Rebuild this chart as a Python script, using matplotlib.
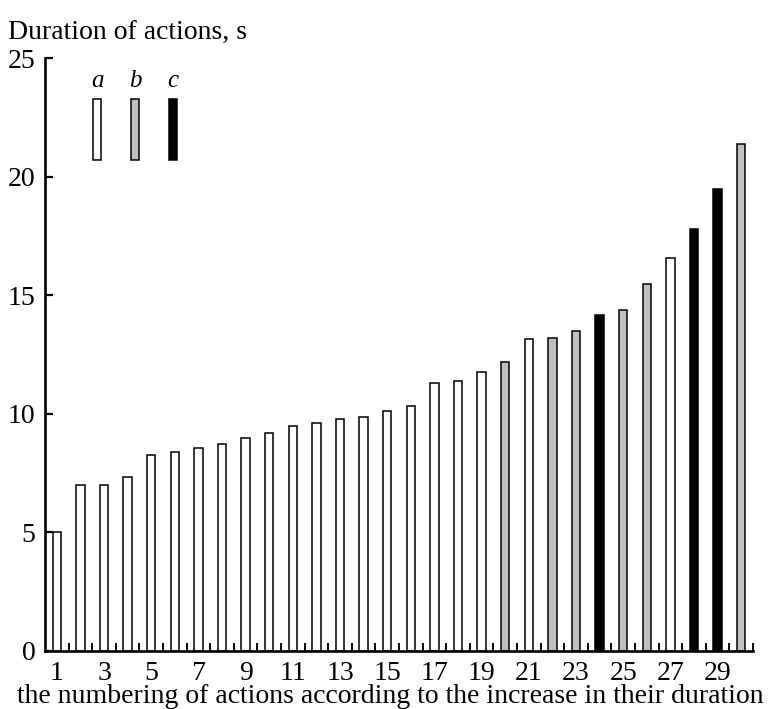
import matplotlib
matplotlib.use("Agg")
import matplotlib.pyplot as plt
import numpy as np

plt.rcParams['font.family'] = ['Liberation Serif', 'DejaVu Serif']

# ---- data ----
action_numbers = list(range(1, 31))
durations = [5.0, 7.0, 6.98, 7.33, 8.27, 8.38, 8.55, 8.72, 8.98, 9.2,
             9.48, 9.61, 9.78, 9.86, 10.12, 10.33, 11.29, 11.37, 11.75, 12.18,
             13.15, 13.19, 13.5, 14.15, 14.39, 15.49, 16.56, 17.8, 19.48, 21.38]
groups = ['a'] * 19 + ['b', 'a', 'b', 'b', 'c', 'b', 'b', 'a', 'c', 'c', 'b']
group_names = ['a', 'b', 'c']
group_colors = {'a': '#ffffff', 'b': '#c0c0c0', 'c': '#000000'}
y_ticks = [0, 5, 10, 15, 20, 25]
x_tick_labels = list(range(1, 30, 2))
y_label = "Duration of actions, s"
x_label = "the numbering of actions according to the increase in their duration"

W, H = 770, 709
FS = 20
fig = plt.figure(figsize=(W / 100, H / 100), dpi=100)
ax = fig.add_axes([45 / W, (H - 651) / H, (753 - 45) / W, (651 - 58) / H])

colors = [group_colors[g] for g in groups]
ax.bar(action_numbers, durations, width=0.35, color=colors,
       edgecolor='black', linewidth=1.1, zorder=2)

ax.set_xlim(0.5, 30.5)
ax.set_ylim(0, 25)
for s in ['top', 'right']:
    ax.spines[s].set_visible(False)
for s in ['left', 'bottom']:
    ax.spines[s].set_linewidth(1.9)

ax.set_yticks(y_ticks)
ax.tick_params(axis='y', direction='in', length=6, width=1.6, labelsize=FS, pad=7)
ax.set_xticks(x_tick_labels)
ax.set_xticks(np.arange(1.5, 31, 1.0), minor=True)
ax.tick_params(axis='x', which='major', length=0, labelsize=FS, pad=7)
ax.tick_params(axis='x', which='minor', direction='in', length=6, width=1.4)

fig.text(8 / W, (H - 40) / H, y_label, fontsize=FS, ha='left', va='baseline')
fig.text(390 / W, (H - 703) / H, x_label, fontsize=FS, ha='center', va='baseline')

# ---- legend (built from group list) ----
lax = fig.add_axes([78 / W, (H - 160) / H, 114 / W, 61 / H])
lax.bar(range(len(group_names)), [1] * len(group_names), width=0.21,
        color=[group_colors[g] for g in group_names], edgecolor='black',
        linewidth=1.1, clip_on=False)
lax.set_xlim(-0.5, len(group_names) - 0.5)
lax.set_ylim(0, 1)
lax.xaxis.tick_top()
lax.set_xticks(range(len(group_names)))
lax.set_xticklabels(group_names, fontsize=18, fontstyle='italic')
lax.tick_params(axis='x', length=0, pad=5)
lax.set_yticks([])
lax.patch.set_visible(False)
for s in lax.spines.values():
    s.set_visible(False)

fig.savefig("out.png", dpi=100)
